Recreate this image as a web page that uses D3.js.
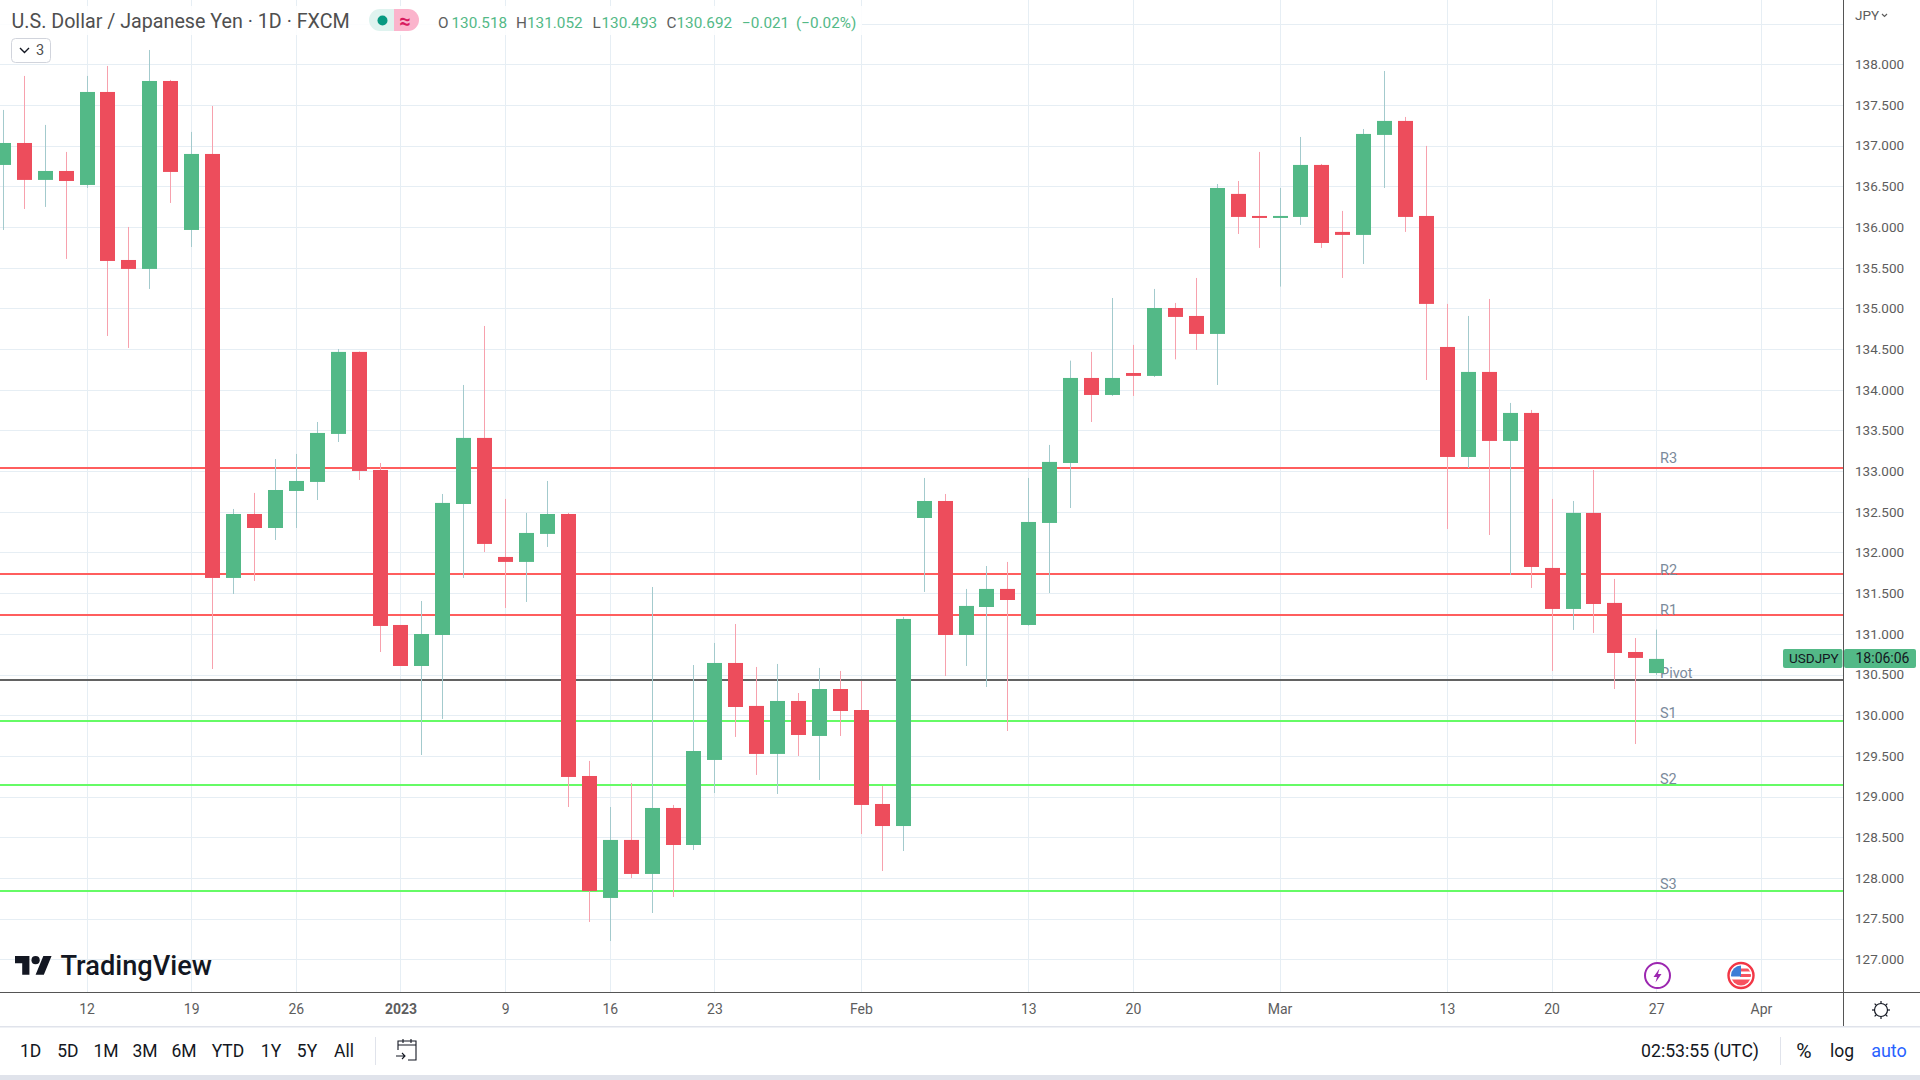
<![CDATA[<!DOCTYPE html>
<html>
<head>
<meta charset="utf-8">
<script src="https://cdn.jsdelivr.net/npm/d3@7"></script>
<style>
html,body{margin:0;padding:0;background:#fff;overflow:hidden}
svg{display:block}
text{font-family:Roboto,"Liberation Sans",sans-serif}
</style>
</head>
<body>
<div id="chart"></div>
<script>
const dates = [
"2022-12-06","2022-12-07","2022-12-08","2022-12-09",
"2022-12-12","2022-12-13","2022-12-14","2022-12-15","2022-12-16",
"2022-12-19","2022-12-20","2022-12-21","2022-12-22","2022-12-23",
"2022-12-26","2022-12-27","2022-12-28","2022-12-29","2022-12-30",
"2023-01-02","2023-01-03","2023-01-04","2023-01-05","2023-01-06",
"2023-01-09","2023-01-10","2023-01-11","2023-01-12","2023-01-13",
"2023-01-16","2023-01-17","2023-01-18","2023-01-19","2023-01-20",
"2023-01-23","2023-01-24","2023-01-25","2023-01-26","2023-01-27",
"2023-01-30","2023-01-31","2023-02-01","2023-02-02","2023-02-03",
"2023-02-06","2023-02-07","2023-02-08","2023-02-09","2023-02-10",
"2023-02-13","2023-02-14","2023-02-15","2023-02-16","2023-02-17",
"2023-02-20","2023-02-21","2023-02-22","2023-02-23","2023-02-24",
"2023-02-27","2023-02-28","2023-03-01","2023-03-02","2023-03-03",
"2023-03-06","2023-03-07","2023-03-08","2023-03-09","2023-03-10",
"2023-03-13","2023-03-14","2023-03-15","2023-03-16","2023-03-17",
"2023-03-20","2023-03-21","2023-03-22","2023-03-23","2023-03-24",
"2023-03-27","2023-03-28","2023-03-29","2023-03-30","2023-03-31",
"2023-04-03","2023-04-04","2023-04-05","2023-04-06","2023-04-07"];

const opens = [136.763,137.033,136.579,136.689,136.517,137.660,135.595,135.485,137.795,135.964,136.898,131.687,132.473,132.301,132.756,132.867,133.457,134.465,133.014,131.109,130.605,130.986,132.596,133.408,131.945,131.884,132.228,132.473,129.253,127.754,128.467,128.049,128.860,128.405,129.450,130.642,130.114,129.524,130.175,129.745,130.322,130.064,128.909,128.638,132.424,132.633,130.986,131.330,131.552,131.109,132.363,133.100,134.145,133.936,134.206,134.170,135.005,134.907,134.686,136.407,136.136,136.112,136.124,136.763,135.940,135.903,137.132,137.304,136.136,134.526,133.174,134.219,133.371,133.715,131.810,131.306,132.486,131.380,130.777,130.518];
const highs = [137.439,137.857,137.255,136.923,137.857,137.980,136.001,138.176,137.808,137.169,137.488,132.535,132.732,133.149,133.211,133.604,134.501,134.470,133.100,131.109,131.404,132.719,134.059,134.784,132.658,132.486,132.879,132.486,129.438,128.872,129.167,131.576,128.897,130.617,130.888,131.121,130.593,130.630,130.273,130.581,130.544,130.421,129.130,131.208,132.916,132.719,131.552,131.834,131.884,132.916,133.322,134.358,134.465,135.128,134.551,135.239,135.067,135.374,136.529,136.566,136.923,136.480,137.107,136.775,136.198,137.205,137.918,137.353,136.997,135.055,134.907,135.116,133.838,133.752,132.658,132.633,133.014,131.675,130.949,131.052];
const lows = [135.964,136.222,136.247,135.608,136.480,134.661,134.514,135.239,136.296,135.755,130.568,131.490,131.650,132.154,132.301,132.645,133.358,132.891,130.777,130.605,129.511,129.954,131.687,132.006,131.318,131.392,132.068,128.872,127.459,127.225,127.999,127.569,127.766,128.344,129.044,129.733,129.266,129.032,129.499,129.204,129.745,128.540,128.085,128.331,131.515,130.482,130.605,130.347,129.806,131.100,131.502,132.547,133.604,133.924,133.924,134.157,134.374,134.489,134.059,135.915,135.743,135.268,136.026,135.743,135.374,135.546,136.480,135.940,134.120,132.289,133.039,132.215,131.724,131.564,130.544,131.048,131.011,130.322,129.646,130.493];
const closes = [137.033,136.579,136.689,136.566,137.660,135.583,135.485,137.795,136.677,136.898,131.687,132.473,132.301,132.768,132.879,133.469,134.465,133.002,131.097,130.605,130.998,132.609,133.408,132.105,131.884,132.240,132.473,129.241,127.840,128.467,128.049,128.860,128.405,129.560,130.642,130.101,129.524,130.175,129.757,130.322,130.052,128.897,128.638,131.183,132.633,130.986,131.343,131.552,131.416,132.375,133.113,134.145,133.936,134.145,134.170,135.005,134.895,134.686,136.480,136.124,136.112,136.136,136.763,135.804,135.903,137.144,137.304,136.124,135.055,133.174,134.219,133.371,133.715,131.822,131.306,132.486,131.367,130.765,130.704,130.692];

const pivotNames = ["R3","R2","R1","Pivot","S1","S2","S3"];
const pivotValues = [133.039,131.736,131.232,130.433,129.929,129.143,127.840];
const priceTicks = [127,127.5,128,128.5,129,129.5,130,130.5,131,131.5,132,132.5,133,133.5,134,134.5,135,135.5,136,136.5,137,137.5,138];
const gridExtra = [138.5];
const timeTickDates = ["2022-12-12","2022-12-19","2022-12-26","2023-01-02","2023-01-09","2023-01-16","2023-01-23","2023-02-01","2023-02-13","2023-02-20","2023-03-01","2023-03-13","2023-03-20","2023-03-27","2023-04-03"];
const timeTickLabels = ["12","19","26","2023","9","16","23","Feb","13","20","Mar","13","20","27","Apr"];
const rangeButtons = ["1D","5D","1M","3M","6M","YTD","1Y","5Y","All"];
const title = "U.S. Dollar / Japanese Yen · 1D · FXCM";

const GREEN="#53b987", RED="#ed4d5c", WICK_G="#a3cacd", WICK_R="#f7a1ad", GRID="#e6eef4", TXT="#5d5d5d";
const W=1920,H=1080, RIGHT=1843, BOTTOM=992;

const svg=d3.select("#chart").append("svg").attr("width",W).attr("height",H);
const x=d3.scalePoint().domain(dates).range([2.8,1844.6]);
const y=d3.scaleLinear().domain([127,138]).range([959.3,64.3]);

svg.append("defs").append("clipPath").attr("id","pane").append("rect").attr("width",RIGHT).attr("height",BOTTOM);
const pane=svg.append("g").attr("clip-path","url(#pane)");

// grid
pane.append("g").selectAll("line").data(priceTicks.concat(gridExtra)).join("line")
  .attr("x1",0).attr("x2",RIGHT).attr("y1",d=>Math.round(y(d))+.5).attr("y2",d=>Math.round(y(d))+.5)
  .attr("stroke",GRID).attr("stroke-width",1);
pane.append("g").selectAll("line").data(timeTickDates).join("line")
  .attr("x1",d=>Math.round(x(d))+.5).attr("x2",d=>Math.round(x(d))+.5).attr("y1",0).attr("y2",BOTTOM)
  .attr("stroke",GRID).attr("stroke-width",1);

// pivots
const pivotOffset={R3:-10,R2:-4,R1:-5,Pivot:-7,S1:-8,S2:-6,S3:-7};
pane.append("g").selectAll("line").data(pivotValues).join("line")
  .attr("x1",0).attr("x2",RIGHT).attr("y1",d=>y(d)).attr("y2",d=>y(d))
  .attr("stroke-width",2)
  .attr("stroke",(d,i)=>i<3?"#ff5e5e":(i===3?"#626262":"#66fb66"));
pane.append("g").selectAll("text").data(pivotNames).join("text")
  .attr("x",1660).attr("y",(d,i)=>y(pivotValues[i])+pivotOffset[d])
  .attr("dy","0.35em").attr("font-size",14.5).attr("fill","#7b8a9b").text(d=>d);

// candles
const bars=opens.map((o,i)=>({date:dates[i],o,h:highs[i],l:lows[i],c:closes[i]}));
const cG=pane.selectAll("g.c").data(bars).join("g").attr("class","c");
cG.append("rect")
  .attr("x",d=>Math.round(x(d.date))).attr("width",1)
  .attr("y",d=>y(d.h)).attr("height",d=>y(d.l)-y(d.h))
  .attr("fill",d=>d.c>=d.o?WICK_G:WICK_R);
cG.append("rect")
  .attr("x",d=>Math.round(x(d.date))-7).attr("width",15)
  .attr("y",d=>y(Math.max(d.o,d.c))).attr("height",d=>Math.max(2,Math.abs(y(d.o)-y(d.c))))
  .attr("fill",d=>d.c>=d.o?GREEN:RED);

// logo
const logo=svg.append("g");
logo.append("g").attr("transform","translate(15,952) scale(1.03)").attr("fill","#131722").call(g=>{
  g.append("path").attr("d","M14 22H7V11H0V4h14v18zM28 22h-8l7.5-18h8L28 22z");
  g.append("circle").attr("cx",20).attr("cy",8).attr("r",4);
});
logo.append("text").attr("x",60.5).attr("y",975).attr("font-size",27.2).attr("font-weight",500).attr("fill","#131722").attr("font-family","Lato, Roboto").text("TradingView");

// events
const ev1=svg.append("g").attr("transform","translate(1657.5,975.5)");
ev1.append("circle").attr("r",12.5).attr("fill","#fff").attr("stroke","#9c27b0").attr("stroke-width",2);
ev1.append("path").attr("d","M2,-7 L-4,1.5 L-0.5,1.5 L-2,7 L4,-1.5 L0.5,-1.5 Z").attr("fill","#9c27b0");
const ev2=svg.append("g").attr("transform","translate(1741,975.5)");
ev2.append("clipPath").attr("id","flag").append("circle").attr("r",10);
ev2.append("circle").attr("r",12.5).attr("fill","#fff").attr("stroke","#f23645").attr("stroke-width",2.4);
const fl=ev2.append("g").attr("clip-path","url(#flag)");
fl.append("rect").attr("x",-10).attr("y",-10).attr("width",20).attr("height",20).attr("fill","#fff");
fl.append("rect").attr("x",-1).attr("y",-7).attr("width",12).attr("height",3).attr("fill","#f7525f");
fl.append("rect").attr("x",-1).attr("y",-1.5).attr("width",12).attr("height",3).attr("fill","#f7525f");
fl.append("rect").attr("x",-11).attr("y",4).attr("width",22).attr("height",7).attr("fill","#f7525f");
fl.append("rect").attr("x",-11).attr("y",-11).attr("width",11).attr("height",12).attr("fill","#3d7fd6");

// price axis
svg.append("g").attr("transform",`translate(${RIGHT},0)`)
  .call(d3.axisRight(y).tickValues(priceTicks).tickSize(0).tickPadding(12).tickFormat(d3.format(".3f")))
  .call(g=>g.select(".domain").remove())
  .call(g=>g.selectAll("text").attr("font-size",13.5).attr("font-family","Roboto").attr("fill",TXT));
svg.append("text").attr("x",1855).attr("y",15.5).attr("dy","0.35em").attr("font-size",13.5).attr("fill",TXT).text("JPY");
svg.append("path").attr("d","M1882 14l2.5 2.5 2.5-2.5").attr("fill","none").attr("stroke",TXT).attr("stroke-width",1.2);

// time axis
const tickLabel=d3.scaleOrdinal().domain(timeTickDates).range(timeTickLabels);
svg.append("g").attr("transform",`translate(0,${BOTTOM})`)
  .call(d3.axisBottom(x).tickValues(timeTickDates).tickSize(0).tickPadding(12.5).tickFormat(d=>tickLabel(d)))
  .call(g=>g.select(".domain").remove())
  .call(g=>g.selectAll("text").attr("font-size",14).attr("font-family","Roboto").attr("fill",TXT)
     .attr("font-weight",d=>tickLabel(d)==="2023"?700:400));

// frame
svg.append("line").attr("x1",0).attr("x2",W).attr("y1",BOTTOM+.5).attr("y2",BOTTOM+.5).attr("stroke","#555");
svg.append("line").attr("x1",RIGHT+.5).attr("x2",RIGHT+.5).attr("y1",0).attr("y2",1026).attr("stroke","#555");
svg.append("rect").attr("x",0).attr("y",1026).attr("width",W).attr("height",1.5).attr("fill","#e0e3eb");
svg.append("rect").attr("x",0).attr("y",1075).attr("width",W).attr("height",5).attr("fill","#e0e3eb");

// price tag
const tag=svg.append("g");
tag.append("rect").attr("x",1783).attr("y",649).attr("width",59.5).attr("height",19).attr("rx",2).attr("fill",GREEN);
tag.append("rect").attr("x",1844).attr("y",649).attr("width",72).attr("height",19).attr("rx",2).attr("fill",GREEN);
tag.append("text").attr("x",1789).attr("y",658.5).attr("dy","0.35em").attr("font-size",13.5).attr("fill","#131722").text("USDJPY");
tag.append("text").attr("x",1855.5).attr("y",658.5).attr("dy","0.35em").attr("font-size",14).attr("fill","#131722").text("18:06:06");

// header
svg.append("rect").attr("x",0).attr("y",6).attr("width",862).attr("height",29).attr("fill","#fff").attr("opacity",.88);
svg.append("text").attr("x",11.5).attr("y",21.5).attr("dy","0.35em").attr("font-size",19.7).attr("fill","#4f4f4f").text(title);
svg.append("path").attr("d","M394 9h-14a11 11 0 0 0 0 22h14z").attr("fill","#dff3ef");
svg.append("path").attr("d","M394 9h14a11 11 0 0 1 0 22h-14z").attr("fill","#fbb4cc");
svg.append("circle").attr("cx",382.5).attr("cy",20.5).attr("r",5).attr("fill","#089981");
svg.append("text").attr("x",405).attr("y",20.5).attr("dy","0.35em").attr("text-anchor","middle").attr("font-size",20).attr("font-weight",700).attr("fill","#d81b60").text("≈");
const ohlcNames=["O","H","L","C"];
const ohlcLast=[opens,highs,lows,closes].map(a=>a[a.length-1]);
const ohlcX=[438,516,592.5,666.5], ohlcValX=[451.5,527,601.5,676.5];
ohlcNames.forEach((n,i)=>{
  svg.append("text").attr("x",ohlcX[i]).attr("y",23).attr("dy","0.35em").attr("font-size",15.3).attr("fill","#5d5d5d").text(n);
  svg.append("text").attr("x",ohlcValX[i]).attr("y",23).attr("dy","0.35em").attr("font-size",15.3).attr("fill",GREEN).text(ohlcLast[i].toFixed(3));
});
svg.append("text").attr("x",742).attr("y",23).attr("dy","0.35em").attr("font-size",15.3).attr("fill",GREEN).text("−0.021");
svg.append("text").attr("x",796).attr("y",23).attr("dy","0.35em").attr("font-size",15.3).attr("fill",GREEN).text("(−0.02%)");
svg.append("rect").attr("x",11.5).attr("y",38.5).attr("width",39).attr("height",24).attr("rx",4).attr("fill","#fff").attr("stroke","#d1d4dc");
svg.append("path").attr("d","M20 48l4.5 4.5 4.5-4.5").attr("fill","none").attr("stroke","#131722").attr("stroke-width",1.4);
svg.append("text").attr("x",40).attr("y",50).attr("dy","0.35em").attr("text-anchor","middle").attr("font-size",14.5).attr("fill","#4f4f4f").text("3");

// bottom toolbar
const btnX=[30.6,67.8,106,145,184,228,271,307,344];
svg.append("g").selectAll("text").data(rangeButtons).join("text")
  .attr("x",(d,i)=>btnX[i]).attr("y",1051).attr("dy","0.35em").attr("text-anchor","middle")
  .attr("font-size",17.5).attr("fill","#131722").text(d=>d);
svg.append("rect").attr("x",375).attr("y",1037).attr("width",1).attr("height",28).attr("fill","#e0e3eb");
svg.append("rect").attr("x",1780).attr("y",1037).attr("width",1).attr("height",28).attr("fill","#e0e3eb");
svg.append("path").attr("d","M398 1050v-9h18v19h-8 M398 1045h18 M403 1039v4 M411 1039v4 M396 1056h9 M402 1053l3 3-3 3").attr("fill","none").attr("stroke","#131722").attr("stroke-width",1.1);
svg.append("text").attr("x",1641).attr("y",1051).attr("dy","0.35em").attr("font-size",17.7).attr("fill","#131722").text("02:53:55 (UTC)");
svg.append("text").attr("x",1804).attr("y",1051).attr("dy","0.35em").attr("text-anchor","middle").attr("font-size",21).attr("fill","#131722").text("%");
svg.append("text").attr("x",1842).attr("y",1051).attr("dy","0.35em").attr("text-anchor","middle").attr("font-size",17.5).attr("fill","#131722").text("log");
svg.append("text").attr("x",1889).attr("y",1051).attr("dy","0.35em").attr("text-anchor","middle").attr("font-size",18).attr("fill","#2962ff").text("auto");
const gear=svg.append("g").attr("transform","translate(1881,1010)").attr("stroke","#131722").attr("fill","none").attr("stroke-width",1.2);
gear.append("circle").attr("r",6.5);
d3.range(8).forEach(k=>{const a=k*Math.PI/4;gear.append("line").attr("x1",6.5*Math.cos(a)).attr("y1",6.5*Math.sin(a)).attr("x2",9*Math.cos(a)).attr("y2",9*Math.sin(a));});
</script>
</body>
</html>]]>
